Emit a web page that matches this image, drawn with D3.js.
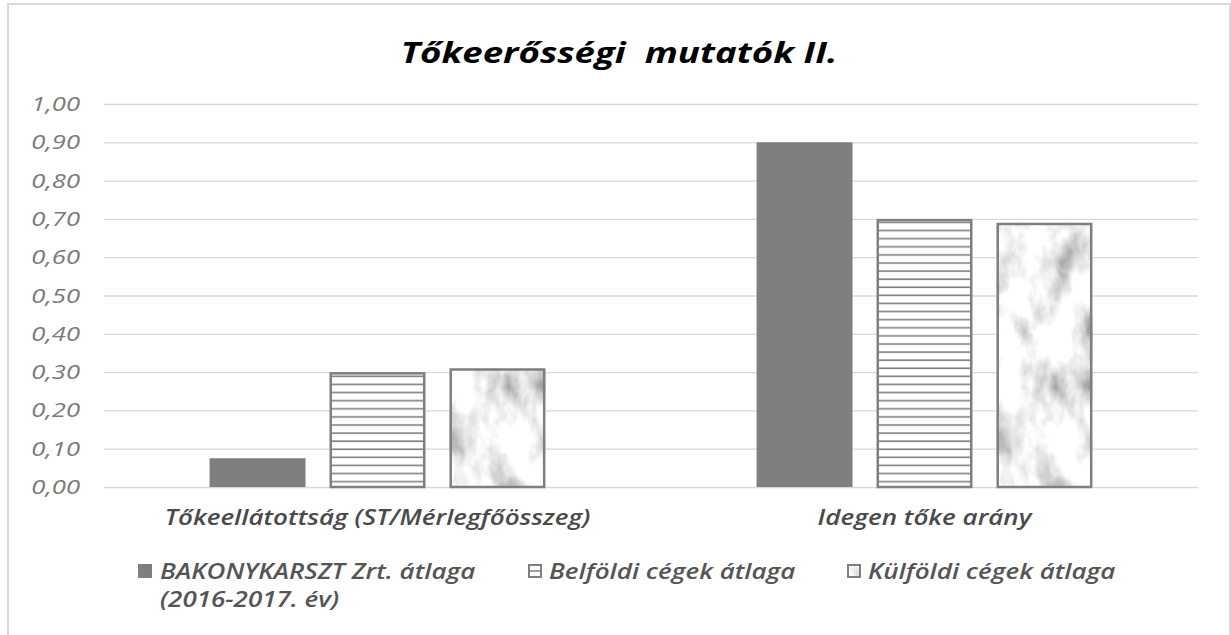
<!DOCTYPE html>
<html>
<head>
<meta charset="utf-8">
<script src="https://cdn.jsdelivr.net/npm/d3@7"></script>
<style>
  html, body { margin: 0; padding: 0; background: #fff; }
  svg { display: block; font-family: "Open Sans", sans-serif; }
</style>
</head>
<body>
<div id="chart"></div>
<script>
// chart data
const categories = ['Tőkeellátottság (ST/Mérlegfőösszeg)', 'Idegen tőke arány'];
const seriesNames = ['BAKONYKARSZT Zrt. átlaga', 'Belföldi cégek átlaga', 'Külföldi cégek átlaga'];
const bakonyValues = [0.075, 0.90];
const belfoldiValues = [0.30, 0.70];
const kulfoldiValues = [0.31, 0.69];
const yTicks = [0, 0.1, 0.2, 0.3, 0.4, 0.5, 0.6, 0.7, 0.8, 0.9, 1.0];
const chartTitle = 'Tőkeerősségi  mutatók II.';

function drawChart(container, d3 = window.d3) {
    const W = 1231, H = 635;
    const plot = { left: 104, right: 1198, top: 104, bottom: 487 };
    const grey = '#7f7f7f';
    const sx = 1.25; // the original text is drawn wide

    const svg = d3.select(container).append('svg')
        .attr('width', W)
        .attr('height', H);

    const defs = svg.append('defs');

    // horizontal stripes for Belföldi
    const stripes = defs.append('pattern')
        .attr('id', 'stripes')
        .attr('patternUnits', 'userSpaceOnUse')
        .attr('width', 10)
        .attr('height', 8.1);
    stripes.append('rect').attr('width', 10).attr('height', 8.1).attr('fill', '#fff');
    stripes.append('rect').attr('y', 3).attr('width', 10).attr('height', 1.6).attr('fill', grey);

    // marble-ish texture for Külföldi
    const marble = defs.append('filter')
        .attr('id', 'marble')
        .attr('x', 0).attr('y', 0).attr('width', 1).attr('height', 1);
    marble.append('feTurbulence')
        .attr('type', 'fractalNoise')
        .attr('baseFrequency', '0.035 0.022')
        .attr('numOctaves', 4)
        .attr('seed', 3)
        .attr('result', 'noise');
    marble.append('feColorMatrix')
        .attr('in', 'noise')
        .attr('type', 'matrix')
        .attr('values', '1.45 0 0 0 0.15  1.45 0 0 0 0.16  1.45 0 0 0 0.17  0 0 0 0 1')
        .attr('result', 'grey');
    marble.append('feComposite')
        .attr('in', 'grey')
        .attr('in2', 'SourceGraphic')
        .attr('operator', 'in');

    // outer frame
    svg.append('rect')
        .attr('x', 8).attr('y', 4)
        .attr('width', 1222).attr('height', 660)
        .attr('fill', '#fff')
        .attr('stroke', '#d9d9d9')
        .attr('stroke-width', 2);

    // title
    svg.append('g')
        .attr('transform', `translate(619,63) scale(${sx},1)`)
        .append('text')
        .attr('text-anchor', 'middle')
        .attr('font-size', 29.3)
        .attr('font-weight', 700)
        .attr('font-style', 'italic')
        .attr('fill', '#000')
        .style('white-space', 'pre')
        .text(chartTitle);

    const y = d3.scaleLinear().domain([0, 1]).range([plot.bottom, plot.top]);
    const x0 = d3.scaleBand().domain(categories).range([plot.left, plot.right]).padding(0);
    const x1 = d3.scaleBand().domain(seriesNames)
        .range([0, x0.bandwidth()])
        .paddingInner(0.2)
        .paddingOuter(0.88);

    const huLocale = d3.formatLocale({ decimal: ',', thousands: ' ', grouping: [3], currency: ['', ' Ft'] });
    const fmt = huLocale.format('.2f');

    // gridlines
    svg.append('g')
        .attr('transform', `translate(${plot.left},0)`)
        .call(d3.axisLeft(y).tickValues(yTicks).tickSize(-(plot.right - plot.left)).tickFormat(''))
        .call(g => g.select('.domain').remove())
        .call(g => g.selectAll('line').attr('stroke', '#d9d9d9').attr('stroke-width', 1.3));

    // y tick labels
    svg.append('g')
        .attr('transform', `translate(${plot.left},0)`)
        .call(d3.axisLeft(y).tickValues(yTicks).tickSize(0).tickPadding(24 / sx).tickFormat(fmt))
        .call(g => g.select('.domain').remove())
        .call(g => g.selectAll('text')
            .attr('transform', `scale(${sx},1)`)
            .attr('font-family', '"Open Sans", sans-serif')
            .attr('font-size', 20.5)
            .attr('font-style', 'italic')
            .attr('fill', '#7a7a7a'));

    const rows = categories.map((c, i) => ({
        category: c,
        values: [bakonyValues[i], belfoldiValues[i], kulfoldiValues[i]]
    }));

    const groups = svg.append('g').selectAll('g.cat')
        .data(rows)
        .enter()
        .append('g')
        .attr('class', 'cat')
        .attr('transform', d => `translate(${x0(d.category)},0)`);

    const bars = groups.selectAll('g.bar')
        .data(d => d.values.map((v, i) => ({ series: seriesNames[i], idx: i, value: v })))
        .enter()
        .append('g')
        .attr('class', 'bar');

    bars.filter(d => d.idx === 0).append('rect')
        .attr('x', d => x1(d.series))
        .attr('y', d => y(d.value))
        .attr('width', x1.bandwidth())
        .attr('height', d => y(0) - y(d.value))
        .attr('fill', grey);

    bars.filter(d => d.idx === 1).append('rect')
        .attr('x', d => x1(d.series) + 1.25)
        .attr('y', d => y(d.value) + 1.25)
        .attr('width', x1.bandwidth() - 2.5)
        .attr('height', d => y(0) - y(d.value) - 1.25)
        .attr('fill', 'url(#stripes)')
        .attr('stroke', grey)
        .attr('stroke-width', 2.5);

    bars.filter(d => d.idx === 2).append('rect')
        .attr('x', d => x1(d.series))
        .attr('y', d => y(d.value))
        .attr('width', x1.bandwidth())
        .attr('height', d => y(0) - y(d.value))
        .attr('fill', '#000')
        .attr('filter', 'url(#marble)');

    bars.filter(d => d.idx === 2).append('rect')
        .attr('x', d => x1(d.series) + 1.25)
        .attr('y', d => y(d.value) + 1.25)
        .attr('width', x1.bandwidth() - 2.5)
        .attr('height', d => y(0) - y(d.value) - 1.25)
        .attr('fill', 'none')
        .attr('stroke', grey)
        .attr('stroke-width', 2.5);

    // category labels
    svg.append('g')
        .attr('transform', `translate(0,${plot.bottom})`)
        .call(d3.axisBottom(x0).tickSize(0).tickPadding(23))
        .call(g => g.select('.domain').remove())
        .call(g => g.selectAll('text')
            .attr('transform', `scale(${sx},1)`)
            .attr('font-family', '"Open Sans", sans-serif')
            .attr('font-size', 20.8)
            .attr('font-style', 'italic')
            .attr('font-weight', 600)
            .attr('fill', '#4a4a4a'));

    // legend
    const legendX = [138, 528, 847];
    const legend = svg.append('g').selectAll('g.legend')
        .data(seriesNames)
        .enter()
        .append('g')
        .attr('class', 'legend')
        .attr('transform', (d, i) => `translate(${legendX[i]},564)`);

    legend.each(function (d, i) {
        const g = d3.select(this);
        if (i === 0) {
            g.append('rect').attr('width', 14).attr('height', 14).attr('fill', grey);
        } else if (i === 1) {
            g.append('rect').attr('x', 1).attr('y', 1).attr('width', 12).attr('height', 12)
                .attr('fill', '#fff').attr('stroke', grey).attr('stroke-width', 2);
            g.append('line').attr('x1', 1).attr('x2', 13).attr('y1', 7).attr('y2', 7)
                .attr('stroke', grey).attr('stroke-width', 1.5);
        } else {
            g.append('rect').attr('width', 14).attr('height', 14)
                .attr('fill', '#000').attr('filter', 'url(#marble)');
            g.append('rect').attr('x', 1).attr('y', 1).attr('width', 12).attr('height', 12)
                .attr('fill', 'none').attr('stroke', grey).attr('stroke-width', 2);
        }
        const t = g.append('g')
            .attr('transform', `translate(${i === 0 ? 22 : 21},15) scale(${sx},1)`)
            .append('text')
            .attr('font-size', 20.8)
            .attr('font-style', 'italic')
            .attr('font-weight', 600)
            .attr('fill', '#555');
        t.append('tspan').text(d);
        if (i === 0) {
            t.append('tspan').attr('x', 0).attr('dy', 28).text('(2016-2017. év)');
        }
    });
}

drawChart('#chart');
</script>
</body>
</html>
